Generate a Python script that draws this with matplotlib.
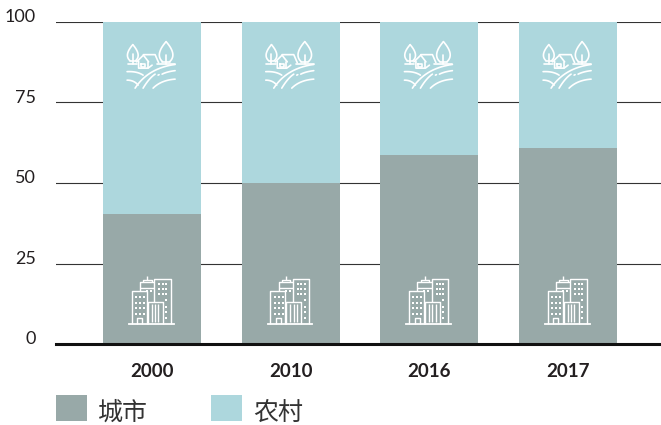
import numpy as np
import matplotlib
matplotlib.use("Agg")
import matplotlib.pyplot as plt
from matplotlib.patches import Patch, Rectangle
from matplotlib.transforms import Affine2D, ScaledTranslation

plt.rcParams['font.family'] = ['Lato', 'Noto Sans CJK SC', 'DejaVu Sans']

years = ['2000', '2010', '2016', '2017']
urban = [40.4, 50, 58.8, 61]
rural = [59.6, 50, 41.2, 39]
yticks = [0, 25, 50, 75, 100]
labels = ['城市', '农村']

c_urban = '#98a9a8'
c_rural = '#add7dd'
c_text = '#231f20'

fig = plt.figure(figsize=(6.61, 4.25), dpi=100)
ax = fig.add_axes([56 / 661, 1 - 344 / 425, 605 / 661, 322 / 425])

x = np.arange(len(years))
ax.bar(x, urban, width=0.707, color=c_urban, zorder=2)
ax.bar(x, rural, width=0.707, bottom=urban, color=c_rural, zorder=2)

ax.set_xlim(-0.693, 3.67)
ax.set_ylim(0, 100)
ax.set_yticks(yticks)
ax.set_xticks(x, years)
ax.grid(axis='y', color='#333333', lw=0.8, zorder=1)
ax.set_axisbelow(True)
for s in ['top', 'right', 'left']:
    ax.spines[s].set_visible(False)
ax.spines['bottom'].set_linewidth(2.2)
ax.spines['bottom'].set_color('#111111')
ax.spines['bottom'].set_zorder(5)
ax.tick_params(axis='y', length=0, pad=14.5, labelsize=13, labelcolor=c_text)
ax.tick_params(axis='x', length=0, pad=13.5, labelsize=13.5, labelcolor=c_text)
for t in ax.get_xticklabels():
    t.set_fontweight('bold')
for t in ax.get_yticklabels():
    t.set_transform(t.get_transform() + ScaledTranslation(0, 4.5 / 72, fig.dpi_scale_trans))

handles = [Patch(color=c_urban, lw=0), Patch(color=c_rural, lw=0)]
leg = fig.legend(handles, labels, ncol=2, loc='lower left', bbox_to_anchor=(56 / 661, 1 - 422.5 / 425),
                 frameon=False, fontsize=18, handlelength=1.24, handleheight=1.27, handletextpad=0.44,
                 columnspacing=2.52, borderpad=0, borderaxespad=0, labelcolor='#333333')
for t in leg.get_texts():
    t.set_fontfamily(['Noto Sans CJK SC', 'DejaVu Sans'])
    t.set_fontweight('light')
    t.set_position((0, -3))


def bez(p0, p1, p2):
    t = np.linspace(0, 1, 20)[:, None]
    pts = (1 - t) ** 2 * np.array(p0) + 2 * t * (1 - t) * np.array(p1) + t ** 2 * np.array(p2)
    return pts[:, 0], pts[:, 1]


# icons are drawn in local pixels around an anchor, y pointing down
def local(x0, y0):
    return Affine2D().scale(1, -1) + ScaledTranslation(x0, y0, ax.transData)


def farm(x0, y0):
    tr = local(x0, y0)
    kw = dict(color='white', lw=1.2, solid_capstyle='round', solid_joinstyle='round',
              transform=tr, zorder=4, clip_on=False)
    # two pointed trees
    for cx, top, w, base in [(-19.3, -20.5, 9.5, -4.5), (14, -23.5, 12, -3.5)]:
        xs, ys = bez((cx, top), (cx - w * 0.95, base - (base - top) * 0.35), (cx - w * 0.3, base))
        ax.plot(xs, ys, **kw)
        xs, ys = bez((cx, top), (cx + w * 0.95, base - (base - top) * 0.35), (cx + w * 0.3, base))
        ax.plot(xs, ys, **kw)
        ax.plot([cx - w * 0.3, cx + w * 0.3], [base, base], **kw)
        ax.plot([cx, cx], [base - 7, -1], **kw)
    # house
    ax.plot([-15.5, -8.7, -3.5], [-3.3, -10, -3.3], **kw)
    ax.plot([-8.7, 3, 6.5], [-10.5, -10.5, -2.5], **kw)
    ax.plot([-13.5, -13.5, -4, 0], [-4, 3, 3, 0], **kw)
    ax.plot([-4.5, -4.5], [-3.5, 3], **kw)
    ax.plot([-11, -7, -7, -11, -11], [-1, -1, 2, 2, -1], **kw)
    # ground line
    ax.plot([-24.5, -15], [-0.7, -0.7], **kw)
    ax.plot([5, 23], [-0.7, -0.7], **kw)
    # furrows and hills
    ax.plot(*bez((-25, 6.5), (-15, 6), (-9, 10)), **kw)
    ax.plot(*bez((-25, 15), (-18, 15), (-14, 20)), **kw)
    ax.plot(*bez((-17, 23), (-4, 3), (23, -0.7)), **kw)
    ax.plot(*bez((-9, 23), (-3, 13), (3, 9)), **kw)
    ax.plot(*bez((1, 23), (9, 15), (23, 14)), **kw)
    ax.plot(*bez((10, 9), (15, 6.5), (23, 5.5)), **kw)
    ax.plot([6, 7], [10, 9.5], **kw)


def city(x0, y0):
    tr = local(x0, y0)
    kw = dict(color='white', lw=1.0, solid_capstyle='butt', transform=tr, zorder=4, clip_on=False)
    ax.plot([-23, 21.5], [0, 0], color='white', lw=1.3, transform=tr, zorder=4, clip_on=False)
    # left block, middle tower, right tower, front block
    ax.plot([-20.3, -20.3, -5.3, -5.3], [0, -33, -33, 0], **kw)
    ax.plot([-12, -12, 2.3], [-33, -41.7, -41.7], **kw)
    ax.plot([-12, 2.3], [-36.5, -36.5], **kw)
    ax.plot([-8.7, -8.7, -0.3, -0.3], [-41.7, -44.5, -44.5, -41.7], **kw)
    ax.plot([-4.7, -4.7], [-44.5, -48], **kw)
    ax.plot([2.3, 2.3, 18.7, 18.7], [-22.3, -45, -45, 0], **kw)
    ax.plot([-4.3, -4.3, 10.7, 10.7], [0, -22.3, -22.3, 0], **kw)
    for bx in [-0.3, 3, 6.3]:
        ax.plot([bx, bx], [-20, -2], **kw)
    ax.plot([-14.7, -14.7, -9.7, -9.7], [0, -5.7, -5.7, 0], **kw)
    win = dict(fc='white', ec='none', transform=tr, zorder=4)
    for wx in [-17, -13, -9]:
        for wy in [-28, -22, -17, -11]:
            ax.add_patch(Rectangle((wx, wy), 2, 2, **win))
    for wx in [6.3, 9.7, 13]:
        for wy in [-41, -36, -31]:
            ax.add_patch(Rectangle((wx, wy), 2, 2, **win))
    for wy in [-25, -18.5, -13.5, -7.5]:
        ax.add_patch(Rectangle((13, wy), 2, 2, **win))
    for wx in [-6, -2]:
        ax.add_patch(Rectangle((wx, -34), 2, 1.6, **win))


for xi in x:
    farm(xi, 86.6)
    city(xi, 6.2)

fig.savefig('out.png', dpi=100)
